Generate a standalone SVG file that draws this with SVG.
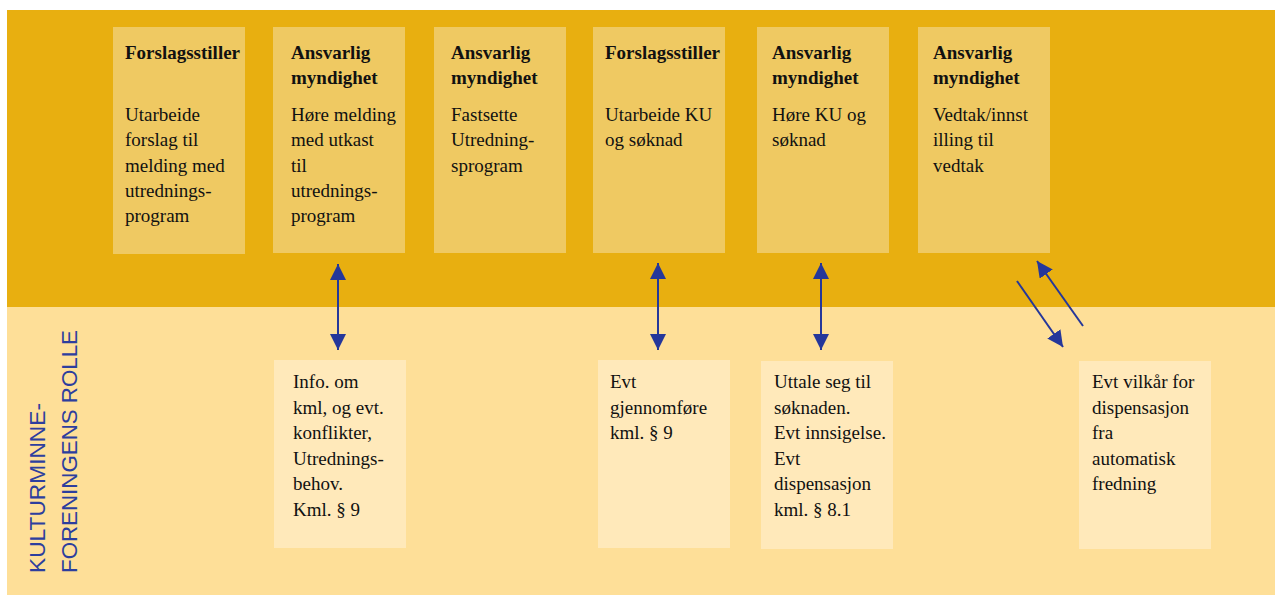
<svg xmlns="http://www.w3.org/2000/svg" width="1275" height="595" viewBox="0 0 1275 595">
<style>
.band-top{fill:#E8AF10}
.band-bot{fill:#FEDF98}
.top{fill:#EFC962}
.bot{fill:#FFE9BA}
.h{font-family:"Liberation Serif","Times New Roman",serif;font-weight:bold;font-size:19px;fill:#111}
.t{font-family:"Liberation Serif","Times New Roman",serif;font-size:19px;fill:#111}
.side{font-family:"Liberation Sans",Arial,sans-serif;font-size:22px;fill:#2D3E9E}
.c{stroke:#25379A;stroke-width:2;fill:none;marker-start:url(#ah);marker-end:url(#ah)}
.c1{stroke:#25379A;stroke-width:2;fill:none;marker-end:url(#ah)}
</style>
<defs>
<marker id="ah" viewBox="0 0 16 16" refX="16" refY="8" markerWidth="16" markerHeight="16" markerUnits="userSpaceOnUse" orient="auto-start-reverse">
<path d="M0,0 L16,8 L0,16 Z" fill="#25379A"/>
</marker>
</defs>
<rect class="band-top" x="7" y="10" width="1268" height="297"/>
<rect class="band-bot" x="7" y="307" width="1268" height="288"/>
<g id="side-label">
<text class="side" x="45" y="573" transform="rotate(-90 45 573)" textLength="170" lengthAdjust="spacingAndGlyphs">KULTURMINNE-</text>
<text class="side" x="77" y="573" transform="rotate(-90 77 573)" textLength="243" lengthAdjust="spacingAndGlyphs">FORENINGENS ROLLE</text>
</g>
<g id="n1">
<rect class="top" x="113" y="27" width="132" height="227"/>
<text class="h" x="125" y="59">Forslagsstiller</text>
<text class="t" x="125" y="121">Utarbeide</text>
<text class="t" x="125" y="146">forslag til</text>
<text class="t" x="125" y="172">melding med</text>
<text class="t" x="125" y="197">utrednings-</text>
<text class="t" x="125" y="222">program</text>
</g>
<g id="n2">
<rect class="top" x="273" y="27" width="132" height="226"/>
<text class="h" x="291" y="59">Ansvarlig</text>
<text class="h" x="291" y="84">myndighet</text>
<text class="t" x="291" y="121">Høre melding</text>
<text class="t" x="291" y="146">med utkast</text>
<text class="t" x="291" y="172">til</text>
<text class="t" x="291" y="197">utrednings-</text>
<text class="t" x="291" y="222">program</text>
</g>
<g id="n3">
<rect class="top" x="434" y="27" width="132" height="226"/>
<text class="h" x="451" y="59">Ansvarlig</text>
<text class="h" x="451" y="84">myndighet</text>
<text class="t" x="451" y="121">Fastsette</text>
<text class="t" x="451" y="146">Utredning-</text>
<text class="t" x="451" y="172">sprogram</text>
</g>
<g id="n4">
<rect class="top" x="593" y="27" width="132" height="226"/>
<text class="h" x="605" y="59">Forslagsstiller</text>
<text class="t" x="605" y="121">Utarbeide KU</text>
<text class="t" x="605" y="146">og søknad</text>
</g>
<g id="n5">
<rect class="top" x="757" y="27" width="132" height="226"/>
<text class="h" x="772" y="59">Ansvarlig</text>
<text class="h" x="772" y="84">myndighet</text>
<text class="t" x="772" y="121">Høre KU og</text>
<text class="t" x="772" y="146">søknad</text>
</g>
<g id="n6">
<rect class="top" x="918" y="27" width="132" height="226"/>
<text class="h" x="933" y="59">Ansvarlig</text>
<text class="h" x="933" y="84">myndighet</text>
<text class="t" x="933" y="121">Vedtak/innst</text>
<text class="t" x="933" y="146">illing til</text>
<text class="t" x="933" y="172">vedtak</text>
</g>
<g id="b1">
<rect class="bot" x="274" y="360" width="132" height="188"/>
<text class="t" x="293" y="388">Info. om</text>
<text class="t" x="293" y="414">kml, og evt.</text>
<text class="t" x="293" y="439">konflikter,</text>
<text class="t" x="293" y="465">Utrednings-</text>
<text class="t" x="293" y="490">behov.</text>
<text class="t" x="293" y="516">Kml. § 9</text>
</g>
<g id="b2">
<rect class="bot" x="598" y="360" width="132" height="188"/>
<text class="t" x="610" y="388">Evt</text>
<text class="t" x="610" y="414">gjennomføre</text>
<text class="t" x="610" y="439">kml. § 9</text>
</g>
<g id="b3">
<rect class="bot" x="761" y="361" width="132" height="188"/>
<text class="t" x="774" y="388">Uttale seg til</text>
<text class="t" x="774" y="414">søknaden.</text>
<text class="t" x="774" y="439">Evt innsigelse.</text>
<text class="t" x="774" y="465">Evt</text>
<text class="t" x="774" y="490">dispensasjon</text>
<text class="t" x="774" y="516">kml. § 8.1</text>
</g>
<g id="b4">
<rect class="bot" x="1079" y="361" width="132" height="188"/>
<text class="t" x="1092" y="388">Evt vilkår for</text>
<text class="t" x="1092" y="414">dispensasjon</text>
<text class="t" x="1092" y="439">fra</text>
<text class="t" x="1092" y="465">automatisk</text>
<text class="t" x="1092" y="490">fredning</text>
</g>
<g id="connectors">
<line class="c" x1="338" y1="264" x2="338" y2="350"/>
<line class="c" x1="658" y1="263" x2="658" y2="350"/>
<line class="c" x1="821" y1="263" x2="821" y2="350"/>
<line class="c1" x1="1017" y1="281" x2="1063" y2="347"/>
<line class="c1" x1="1083" y1="326" x2="1037" y2="261"/>
</g>
</svg>
